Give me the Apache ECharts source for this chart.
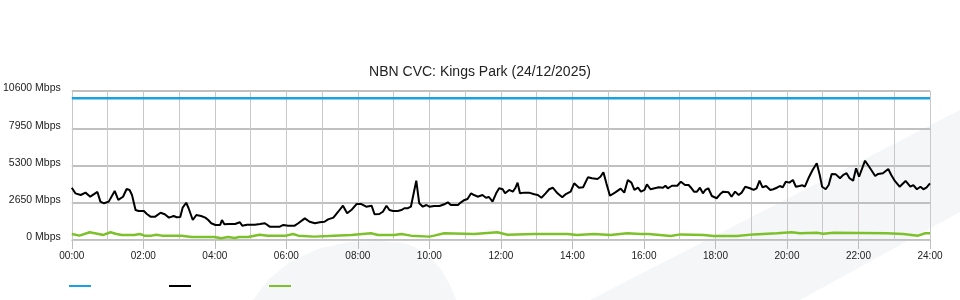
<!DOCTYPE html>
<html>
<head>
<meta charset="utf-8">
<script src="https://cdn.jsdelivr.net/npm/echarts@6/dist/echarts.min.js"></script>
<style>html,body{margin:0;padding:0;background:#fff}#c{width:960px;height:300px}</style>
</head>
<body>
<div id="c"></div>
<script>
// ---- data (x in minutes since 00:00, y in Mbps) ----
const titleText = 'NBN CVC: Kings Park (24/12/2025)';
const seriesNames = ['Capacity', 'Download', 'Upload'];
const xTickHours = [0, 2, 4, 6, 8, 10, 12, 14, 16, 18, 20, 22, 24];
const yTicks = [0, 2650, 5300, 7950, 10600];

const capacityTimes = [0, 1440];
const capacityValues = [10080, 10080];

const downloadTimes = [0,6,15,23,31,43,48,54,62,72,78,86,92,97,101,107,112,121,126,132,140,149,156,163,171,176,182,186,192,196,203,209,217,224,229,234,241,249,252,256,263,274,282,286,294,307,316,324,332,349,355,363,374,380,391,399,408,416,424,430,439,447,455,462,469,478,486,494,503,508,516,522,528,533,539,547,553,558,564,569,578,583,589,595,600,608,617,625,631,636,648,653,659,664,670,675,681,689,695,700,706,712,717,723,727,734,740,744,748,752,759,767,776,782,788,795,801,807,815,823,829,837,843,851,858,866,873,882,887,892,897,903,912,921,927,933,939,944,950,955,961,965,971,978,985,992,996,1000,1007,1016,1022,1029,1035,1039,1044,1049,1054,1059,1063,1068,1074,1082,1088,1093,1102,1107,1113,1119,1124,1130,1138,1144,1149,1154,1159,1165,1172,1177,1183,1188,1193,1198,1204,1210,1215,1221,1226,1230,1236,1243,1250,1255,1259,1265,1270,1275,1282,1289,1294,1300,1305,1311,1316,1321,1331,1339,1348,1353,1361,1370,1375,1381,1389,1399,1407,1412,1418,1424,1429,1434,1440];
const downloadValues = [3720,3320,3200,3370,3080,3420,2730,2610,2730,3490,2850,3080,3630,3560,3200,2130,2060,2060,1850,1660,1660,1940,1830,1590,1710,1620,1640,2300,2650,2260,1420,1780,1710,1590,1420,1190,1070,1070,1420,1120,1140,1140,1260,1020,1090,1090,1140,1190,950,950,1070,1020,1020,1190,1540,1300,1190,1260,1300,1470,1590,2010,2440,1900,2130,2560,2560,2370,2440,1830,1850,2010,2440,2130,2060,2060,2130,2260,2260,2370,4220,2610,2370,2490,2370,2420,2420,2540,2680,2490,2490,2680,2850,2920,3320,3200,3080,3200,3010,3060,2730,3320,3680,3610,3320,3560,3440,3680,4080,3320,3370,3370,3250,3200,3010,3320,3610,3720,3320,3040,3270,3440,4030,3720,3750,4460,4390,4340,4500,4820,4030,3150,3390,3650,3370,4270,4080,3560,3720,3440,3560,3960,3610,3680,3750,3720,3860,3680,3860,3860,4150,3910,3910,3720,3440,3440,3720,3320,3560,3680,3130,2970,3270,3440,3390,3080,3440,3200,3370,3790,3680,3560,3680,4220,3750,3840,3560,3610,3720,3840,3750,4150,4080,4270,3790,3840,3890,3790,4390,4980,5460,4620,3790,3610,3910,4700,4670,4390,4620,4750,4390,4220,5100,4500,5640,5140,4550,4700,4750,5050,4620,4200,3790,4200,3790,3910,3610,3790,3610,3720,4030];

const uploadTimes = [0,13,30,45,53,65,75,84,105,114,122,134,142,151,184,201,239,251,262,273,281,296,315,329,360,371,380,407,440,469,502,514,541,553,569,600,608,625,675,714,731,775,832,848,876,904,932,954,968,1005,1021,1060,1077,1116,1144,1183,1208,1222,1250,1261,1278,1367,1395,1420,1432,1440];
const uploadValues = [430,310,550,430,360,550,430,360,360,430,310,310,380,310,310,210,210,120,210,140,210,210,380,310,310,430,310,240,310,360,480,360,360,430,310,240,310,480,430,550,380,430,430,360,430,360,480,430,430,290,400,360,290,290,400,480,550,480,520,450,520,480,430,310,480,480];

function pairs(t, v) { return t.map((x, i) => [x, v[i]]); }
function hh(m) { const h = Math.round(m / 60); return (h < 10 ? '0' : '') + h + ':00'; }

const chart = echarts.init(document.getElementById('c'), null, {renderer: 'canvas'});
const font = '"Liberation Sans", Arial, sans-serif';
chart.setOption({
  animation: false,
  backgroundColor: '#fff',
  textStyle: {fontFamily: font},
  title: {
    text: titleText, left: 'center', top: 60,
    textStyle: {fontFamily: font, fontSize: 14, fontWeight: 'normal', color: '#222'}
  },
  graphic: [
    {type: 'polygon', z: -10, silent: true,
     shape: {points: [[590, 300], [800, 300], [960, 212], [960, 110]]},
     style: {fill: '#f5f6f8'}},
    {type: 'polygon', z: -10, silent: true,
     shape: {points: [[253,300],[268,280],[290,262],[320,248],[350,242],[380,241],[405,243],[425,252],[440,268],[450,285],[456,300]]},
     style: {fill: '#f5f6f8'}}
  ],
  legend: {
    left: 64, top: 280, itemWidth: 22, itemHeight: 2, itemGap: 78,
    icon: 'rect', formatter: () => '',
    data: seriesNames,
    textStyle: {fontSize: 10}
  },
  grid: {left: 70, right: 30, top: 91, bottom: 60, containLabel: false},
  xAxis: {
    type: 'value', min: 0, max: 1440, interval: 120,
    axisLine: {show: true, lineStyle: {color: '#c8c8c8', width: 1}},
    axisTick: {show: true, length: 9, lineStyle: {color: '#bdbdbd'}},
    axisLabel: {fontFamily: font, fontSize: 10, color: '#222', margin: 11, formatter: hh,
                showMinLabel: true, showMaxLabel: true},
    splitLine: {show: true, lineStyle: {color: '#c8c8c8', width: 1}},
    minorTick: {show: false, splitNumber: 2},
    minorSplitLine: {show: true, lineStyle: {color: '#c8c8c8', width: 1}}
  },
  yAxis: {
    type: 'value', min: yTicks[0], max: yTicks[yTicks.length - 1], interval: 2650,
    axisLine: {show: false}, axisTick: {show: false},
    axisLabel: {fontFamily: font, fontSize: 10.5, color: '#222', margin: 11,
                formatter: v => v + ' Mbps', verticalAlign: 'bottom', lineHeight: 5},
    splitLine: {show: true, lineStyle: {color: '#c0c0c0', width: 2}}
  },
  series: [
    {name: seriesNames[0], type: 'line', data: pairs(capacityTimes, capacityValues),
     showSymbol: false, symbol: 'none', color: '#1ba1e2', lineStyle: {width: 2.5, color: '#1ba1e2'}, z: 3},
    {name: seriesNames[1], type: 'line', data: pairs(downloadTimes, downloadValues),
     showSymbol: false, symbol: 'none', color: '#000', lineStyle: {width: 2, color: '#000'}, z: 4},
    {name: seriesNames[2], type: 'line', data: pairs(uploadTimes, uploadValues),
     showSymbol: false, symbol: 'none', color: '#7dc12a', lineStyle: {width: 2.5, color: '#7dc12a'}, z: 3}
  ]
});
</script>
</body>
</html>
